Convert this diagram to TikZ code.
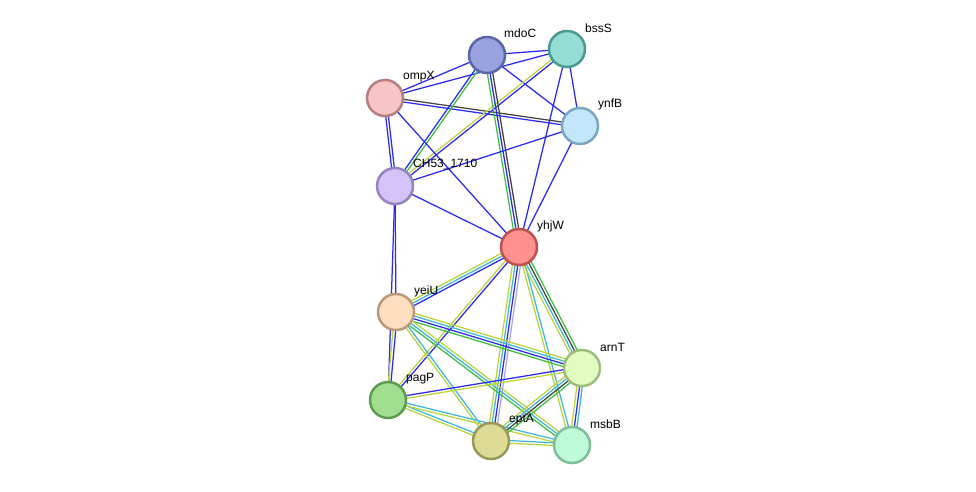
\documentclass[tikz,border=0pt]{standalone}
\usepackage{fontspec}
\setmainfont{Liberation Sans}
\usetikzlibrary{calc,backgrounds}
\definecolor{cblue}{HTML}{2A2AF5}
\definecolor{cyel}{HTML}{BCD43A}
\definecolor{ccyan}{HTML}{3BB8DC}
\definecolor{cgreen}{HTML}{3CBF3C}
\definecolor{cblack}{HTML}{444444}
\definecolor{clav}{HTML}{A8A8F8}
\newcommand\edg[4]{\foreach \cc [count=\ii] in {#4}{\pgfmathsetmacro\off{(\ii-(#3+1)/2)*2.7}\draw[\cc,line width=1.25pt] ($(#1)!\off pt!90:(#2)$) -- ($(#2)!\off pt!-90:(#1)$);}}
\tikzset{
  prot/.style={circle,minimum size=36pt,inner sep=0pt,line width=2.5pt},
  lab/.style={anchor=west,font=\fontsize{12}{14}\selectfont,inner sep=0pt}
}
\begin{document}
\begin{tikzpicture}[x=1pt,y=-1pt]
\useasboundingbox (0,0) rectangle (976,491);
\node[prot,draw={rgb,255:red,90;green,102;blue,168},fill={rgb,255:red,154;green,163;blue,224}] (mdoC) at (487,55) {};
\node[prot,draw={rgb,255:red,74;green,154;blue,143},fill={rgb,255:red,150;green,222;blue,213}] (bssS) at (567,49) {};
\node[prot,draw={rgb,255:red,180;green,128;blue,128},fill={rgb,255:red,247;green,197;blue,197}] (ompX) at (385,98) {};
\node[prot,draw={rgb,255:red,122;green,168;blue,192},fill={rgb,255:red,194;green,231;blue,251}] (ynfB) at (580,126) {};
\node[prot,draw={rgb,255:red,148;green,132;blue,192},fill={rgb,255:red,212;green,195;blue,248}] (CH) at (395,186) {};
\node[prot,draw={rgb,255:red,192;green,80;blue,80},fill={rgb,255:red,255;green,144;blue,144}] (yhjW) at (519,247) {};
\node[prot,draw={rgb,255:red,184;green,154;blue,122},fill={rgb,255:red,255;green,223;blue,192}] (yeiU) at (396,312) {};
\node[prot,draw={rgb,255:red,158;green,188;blue,128},fill={rgb,255:red,226;green,252;blue,192}] (arnT) at (582,368) {};
\node[prot,draw={rgb,255:red,94;green,154;blue,80},fill={rgb,255:red,160;green,223;blue,144}] (pagP) at (388,400) {};
\node[prot,draw={rgb,255:red,154;green,152;blue,90},fill={rgb,255:red,221;green,219;blue,150}] (eptA) at (491,441) {};
\node[prot,draw={rgb,255:red,124;green,191;blue,152},fill={rgb,255:red,191;green,250;blue,217}] (msbB) at (572,445) {};
\node[lab] (lmdoC) at (504,33) {mdoC};
\node[lab] (lbssS) at (585,28) {bssS};
\node[lab] (lompX) at (403,77) {ompX};
\node[lab] (lynfB) at (598,104) {ynfB};
\node[lab] (lCH) at (413,164) {CH53\_1710};
\node[lab] (lyhjW) at (537,226) {yhjW};
\node[lab] (lyeiU) at (414,291) {yeiU};
\node[lab] (larnT) at (600,347) {arnT};
\node[lab] (lpagP) at (406,379) {pagP};
\node[lab] (leptA) at (509,420) {eptA};
\node[lab] (lmsbB) at (590,424) {msbB};
\begin{scope}[on background layer]
\fill[white] (0,0) rectangle (976,491);
\edg{ompX}{mdoC}{1}{cblue}
\edg{ompX}{bssS}{1}{cblue}
\edg{mdoC}{bssS}{1}{cblue}
\edg{mdoC}{ynfB}{1}{cblue}
\edg{bssS}{ynfB}{1}{cblue}
\edg{ompX}{ynfB}{2}{cblue,cblack}
\edg{CH}{mdoC}{2}{cgreen,cblue}
\edg{CH}{bssS}{2}{cblue,cyel}
\edg{mdoC}{yhjW}{3}{cgreen,cblue,cblack}
\edg{bssS}{yhjW}{1}{cblue}
\edg{ynfB}{yhjW}{1}{cblue}
\edg{CH}{ynfB}{1}{cblue}
\edg{ompX}{CH}{2}{cblue,cblue}
\edg{ompX}{yhjW}{1}{cblue}
\edg{CH}{yhjW}{1}{cblue}
\edg{CH}{yeiU}{1}{cblue}
\edg{CH}{pagP}{1}{cblue}
\edg{yhjW}{yeiU}{3}{cyel,ccyan,cblue}
\edg{yhjW}{pagP}{2}{cyel,cblue}
\edg{yhjW}{eptA}{4}{cyel,ccyan,cblue,clav}
\edg{yhjW}{msbB}{2}{cyel,ccyan}
\edg{yhjW}{arnT}{4}{cyel,ccyan,cblack,cgreen}
\edg{yeiU}{pagP}{2}{cyel,cblue}
\edg{yeiU}{arnT}{4}{cgreen,cblue,ccyan,cyel}
\edg{yeiU}{eptA}{2}{cyel,ccyan}
\edg{yeiU}{msbB}{3}{cgreen,ccyan,cyel}
\edg{pagP}{arnT}{2}{cyel,cblue}
\edg{pagP}{eptA}{2}{cyel,ccyan}
\edg{pagP}{msbB}{2}{cyel,ccyan}
\edg{eptA}{arnT}{4}{cgreen,cblack,ccyan,cyel}
\edg{arnT}{msbB}{3}{cyel,cblue,ccyan}
\edg{eptA}{msbB}{2}{cyel,ccyan}
\end{scope}
\end{tikzpicture}
\end{document}
